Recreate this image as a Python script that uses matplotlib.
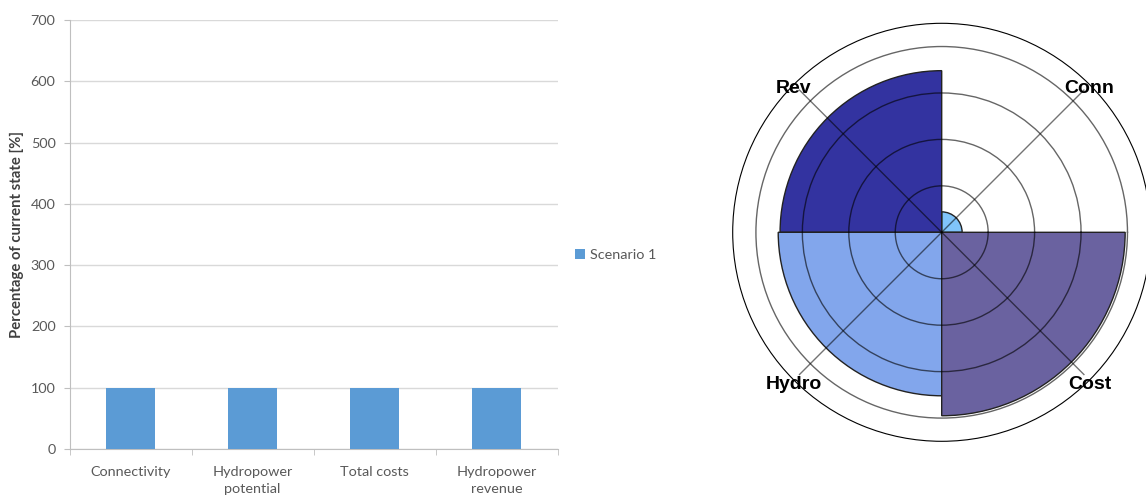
import numpy as np
import matplotlib
matplotlib.use("Agg")
import matplotlib.pyplot as plt
from matplotlib.patches import Patch
from matplotlib.transforms import offset_copy

# ---- data ----
categories = ["Connectivity", "Hydropower\npotential", "Total costs", "Hydropower\nrevenue"]
scenario1 = [100, 100, 100, 100]
y_ticks = [0, 100, 200, 300, 400, 500, 600, 700]

rose_labels = ["Conn", "Rev", "Hydro", "Cost"]
rose_angles_deg = [45, 135, 225, 315]
rose_values = [0.44, 3.48, 3.52, 3.95]
rose_colors = ["#80C4FA", "#3333A0", "#82A6EC", "#6A62A0"]

W, H = 1146, 496
fig = plt.figure(figsize=(W / 100, H / 100), dpi=100)

# ---- left bar chart ----
txt = "#595959"
ax = fig.add_axes([69.5 / W, (H - 449) / H, 488 / W, 429 / H])
x = np.arange(len(categories))
ax.bar(x, scenario1, width=0.4, color="#5B9BD5", zorder=3)
ax.set_xlim(-0.5, len(categories) - 0.5)
ax.set_ylim(0, 700)
ax.set_yticks(y_ticks)
ax.set_yticklabels([str(v) for v in y_ticks], family="Lato", fontsize=10.4, color=txt)
ax.set_xticks(x)
ax.set_xticklabels(categories, family="Lato", fontsize=10.4, color=txt, linespacing=1.5)
ax.set_xticks(np.arange(-0.5, len(categories)), minor=True)
ax.tick_params(axis="x", which="major", length=0, pad=12)
ax.tick_params(axis="x", which="minor", length=4, color="#BFBFBF", direction="out")
ax.tick_params(axis="y", length=4, color="#BFBFBF", pad=6)
ax.grid(axis="y", color="#D9D9D9", lw=1, zorder=0)
for s in ["top", "right"]:
    ax.spines[s].set_visible(False)
for s in ["left", "bottom"]:
    ax.spines[s].set_color("#BFBFBF")
ax.set_ylabel("Percentage of current state [%]", family="Lato", fontsize=10.7,
              fontweight="bold", color="#404040", labelpad=5)

fig.legend(handles=[Patch(facecolor="#5B9BD5", label="Scenario 1")],
           loc="center left", bbox_to_anchor=(562 / W, 1 - 255 / H), frameon=False,
           handlelength=0.7, handleheight=0.7, handletextpad=0.35,
           prop={"family": "Lato", "size": 10.4}, labelcolor=txt)

# ---- right rose chart ----
pax = fig.add_axes([732.7 / W, 54.7 / H, 418 / W, 418 / H], projection="polar")
theta = np.deg2rad(rose_angles_deg)
pax.bar(theta, rose_values, width=np.pi / 2, color=rose_colors,
        edgecolor="#222222", lw=1, zorder=2)
pax.set_ylim(0, 4.5)
pax.set_rgrids([1, 2, 3, 4], labels=[""] * 4)
pax.set_thetagrids([])
pax.set_axisbelow(False)
pax.yaxis.grid(True, color="black", alpha=0.6, lw=1)
pax.spines["polar"].set_linewidth(0.8)
pax.spines["polar"].set_color("black")
lab_tr = offset_copy(pax.transData, fig=fig, x=0, y=-3, units="points")
for t, lab in zip(theta, rose_labels):
    pax.plot([t, t], [0, 4.33], color="black", alpha=0.55, lw=1, zorder=3)
    pax.text(t, 4.5, lab, ha="center", va="center", fontweight="bold",
             fontsize=14, family="Liberation Sans", zorder=4, clip_on=False,
             transform=lab_tr)

fig.savefig("out.png", dpi=100)
